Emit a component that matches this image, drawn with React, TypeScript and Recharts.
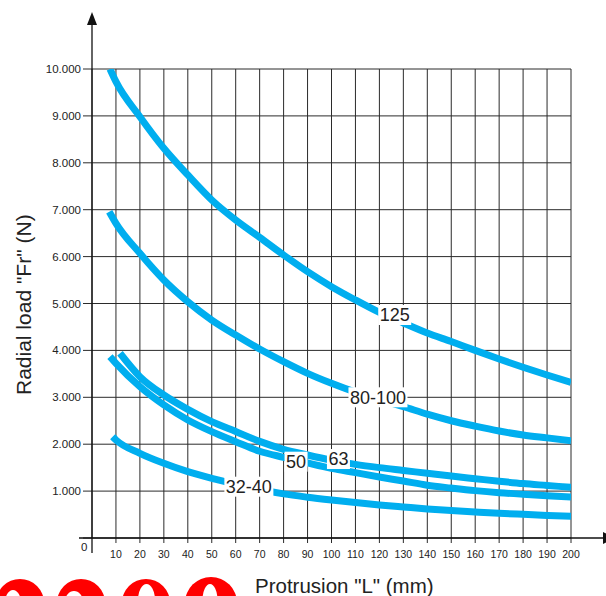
import React from "react";
import { ComposedChart, Line, Scatter, XAxis, YAxis, CartesianGrid } from "recharts";

const FONT = "'Liberation Sans', Arial, Helvetica, sans-serif";
const CURVE_COLOR = "#00AEEF";
const GRID_COLOR = "#2b2b2b";

// tick values
const X_TICKS = [10, 20, 30, 40, 50, 60, 70, 80, 90, 100, 110, 120, 130, 140, 150, 160, 170, 180, 190, 200];
const Y_TICKS = [0, 1000, 2000, 3000, 4000, 5000, 6000, 7000, 8000, 9000, 10000];

// radial load Fr (N) against protrusion L (mm)
const BORE_125 = [
  { l: 7.5, f: 10000 }, { l: 10, f: 9730 }, { l: 20, f: 8983 }, { l: 30, f: 8309 },
  { l: 40, f: 7740 }, { l: 50, f: 7207 }, { l: 60, f: 6780 }, { l: 70, f: 6410 },
  { l: 80, f: 6034 }, { l: 90, f: 5678 }, { l: 100, f: 5359 }, { l: 110, f: 5075 },
  { l: 120, f: 4810 }, { l: 130, f: 4584 }, { l: 140, f: 4370 }, { l: 150, f: 4190 },
  { l: 160, f: 4000 }, { l: 170, f: 3815 }, { l: 180, f: 3640 }, { l: 190, f: 3475 },
  { l: 200, f: 3320 },
];

const BORE_80_100 = [
  { l: 7.2, f: 6958 }, { l: 10, f: 6710 }, { l: 20, f: 6070 }, { l: 30, f: 5501 },
  { l: 40, f: 5038 }, { l: 50, f: 4648 }, { l: 60, f: 4328 }, { l: 70, f: 4030 },
  { l: 80, f: 3760 }, { l: 90, f: 3511 }, { l: 100, f: 3298 }, { l: 110, f: 3110 },
  { l: 120, f: 2950 }, { l: 130, f: 2800 }, { l: 140, f: 2640 }, { l: 150, f: 2500 },
  { l: 160, f: 2385 }, { l: 170, f: 2281 }, { l: 180, f: 2196 }, { l: 190, f: 2135 },
  { l: 200, f: 2075 },
];

const BORE_63 = [
  { l: 11.7, f: 3940 }, { l: 20, f: 3440 }, { l: 30, f: 3049 }, { l: 40, f: 2743 },
  { l: 50, f: 2480 }, { l: 60, f: 2270 }, { l: 70, f: 2060 }, { l: 80, f: 1891 },
  { l: 90, f: 1770 }, { l: 100, f: 1660 }, { l: 110, f: 1570 }, { l: 120, f: 1500 },
  { l: 130, f: 1440 }, { l: 140, f: 1380 }, { l: 150, f: 1320 }, { l: 160, f: 1265 },
  { l: 170, f: 1210 }, { l: 180, f: 1160 }, { l: 190, f: 1120 }, { l: 200, f: 1080 },
];

const BORE_50 = [
  { l: 7.5, f: 3866 }, { l: 10, f: 3724 }, { l: 20, f: 3226 }, { l: 30, f: 2836 },
  { l: 40, f: 2516 }, { l: 50, f: 2267 }, { l: 60, f: 2054 }, { l: 70, f: 1850 },
  { l: 80, f: 1720 }, { l: 90, f: 1600 }, { l: 100, f: 1486 }, { l: 110, f: 1393 },
  { l: 120, f: 1300 }, { l: 130, f: 1215 }, { l: 140, f: 1125 }, { l: 150, f: 1065 },
  { l: 160, f: 1010 }, { l: 170, f: 966 }, { l: 180, f: 932 }, { l: 190, f: 902 },
  { l: 200, f: 874 },
];

const BORE_32_40 = [
  { l: 8.6, f: 2160 }, { l: 10, f: 2090 }, { l: 20, f: 1806 }, { l: 30, f: 1593 },
  { l: 40, f: 1414 }, { l: 50, f: 1273 }, { l: 60, f: 1150 }, { l: 70, f: 1035 },
  { l: 80, f: 940 }, { l: 90, f: 870 }, { l: 100, f: 810 }, { l: 110, f: 755 },
  { l: 120, f: 705 }, { l: 130, f: 662 }, { l: 140, f: 620 }, { l: 150, f: 585 },
  { l: 160, f: 554 }, { l: 170, f: 526 }, { l: 180, f: 504 }, { l: 190, f: 482 },
  { l: 200, f: 462 },
];

const CURVE_LABELS = [
  { l: 126.4, f: 4755, text: "125" },
  { l: 119.4, f: 3000, text: "80-100" },
  { l: 102.9, f: 1684, text: "63" },
  { l: 85.2, f: 1627, text: "50" },
  { l: 65.5, f: 1094, text: "32-40" },
];

const CURVES = [
  { id: "125", data: BORE_125 },
  { id: "80-100", data: BORE_80_100 },
  { id: "63", data: BORE_63 },
  { id: "50", data: BORE_50 },
  { id: "32-40", data: BORE_32_40 },
];

function fmtLoad(v: number) {
  return v === 0 ? "0" : `${v / 1000}.000`;
}

function XTick(props: any) {
  const { x, y, payload } = props;
  return (
    <text x={x} y={y + 13} textAnchor="middle" fontSize={10.5} fill="#222" fontFamily={FONT}>
      {payload.value}
    </text>
  );
}

function YTick(props: any) {
  const { x, y, payload } = props;
  if (payload.value === 0) {
    return (
      <text x={x + 6.5} y={y + 12.8} textAnchor="end" fontSize={11.5} fill="#222" fontFamily={FONT}>
        0
      </text>
    );
  }
  return (
    <text x={x} y={y + 4} textAnchor="end" fontSize={11.5} fill="#222" fontFamily={FONT}>
      {fmtLoad(payload.value)}
    </text>
  );
}

function CurveTag(props: any) {
  const { cx, cy, payload } = props;
  const text: string = payload.text;
  let w = 0;
  for (const ch of text) w += ch === "-" ? 6 : 10;
  w += 3;
  return (
    <g>
      <rect x={cx - w / 2} y={cy - 10} width={w} height={20} fill="#fff" />
      <text x={cx} y={cy + 6.4} textAnchor="middle" fontSize={18} fill="#222" fontFamily={FONT}>
        {text}
      </text>
    </g>
  );
}

export default function App() {
  return (
    <div style={{ position: "absolute", left: 0, top: 0, width: 606, height: 596, background: "#fff", overflow: "hidden" }}>
      <ComposedChart
        width={606}
        height={596}
        margin={{ top: 69, right: 35, bottom: 0, left: 0 }}
      >
        <CartesianGrid stroke={GRID_COLOR} strokeWidth={1} />
        <XAxis
          dataKey="l"
          type="number"
          domain={[0, 200]}
          ticks={X_TICKS}
          allowDataOverflow
          height={58}
          axisLine={false}
          tickLine={{ stroke: GRID_COLOR }}
          tickSize={5}
          tick={<XTick />}
          interval={0}
        />
        <YAxis
          type="number"
          domain={[0, 10000]}
          ticks={Y_TICKS}
          allowDataOverflow
          width={92}
          axisLine={false}
          tickLine={{ stroke: GRID_COLOR }}
          tickSize={9}
          tick={<YTick />}
          interval={0}
        />
        {CURVES.map((c) => (
          <Line
            key={c.id}
            data={c.data}
            dataKey="f"
            type="monotone"
            stroke={CURVE_COLOR}
            strokeWidth={7}
            dot={false}
            activeDot={false}
            isAnimationActive={false}
          />
        ))}
        <Scatter data={CURVE_LABELS} dataKey="f" shape={<CurveTag />} isAnimationActive={false} />
      </ComposedChart>
      <svg
        width={606}
        height={596}
        style={{ position: "absolute", left: 0, top: 0, pointerEvents: "none" }}
      >
        {/* axes with arrow heads */}
        <line x1={92} y1={553} x2={92} y2={22} stroke="#111" strokeWidth={1.3} />
        <polygon points="92,12 87,25 97,25" fill="#111" />
        <line x1={79} y1={538} x2={606} y2={538} stroke="#111" strokeWidth={1.3} />
        <polygon points="603,532 603,544 615,538" fill="#111" />
        <text
          x={30.5}
          y={395}
          transform="rotate(-90 30.5 395)"
          textAnchor="start"
          fontSize={21}
          fill="#222"
          fontFamily={FONT}
        >
          Radial load "Fr" (N)
        </text>
        <text x={255} y={593.3} fontSize={20.5} fill="#222" fontFamily={FONT}>
          Protrusion "L" (mm)
        </text>
        {/* red badges cut off at the bottom edge */}
        <circle cx={20} cy={603} r={24} fill="#f00" />
        <ellipse cx={13} cy={603} rx={8} ry={13} fill="#fff" />
        <circle cx={81} cy={603} r={24} fill="#f00" />
        <ellipse cx={74} cy={602} rx={9} ry={11} fill="#fff" />
        <circle cx={146} cy={603} r={24} fill="#f00" />
        <ellipse cx={146.5} cy={600} rx={8.5} ry={16} fill="#fff" />
        <circle cx={211} cy={603} r={26} fill="#f00" />
        <ellipse cx={210} cy={600} rx={7.5} ry={16} fill="#fff" />
      </svg>
    </div>
  );
}
